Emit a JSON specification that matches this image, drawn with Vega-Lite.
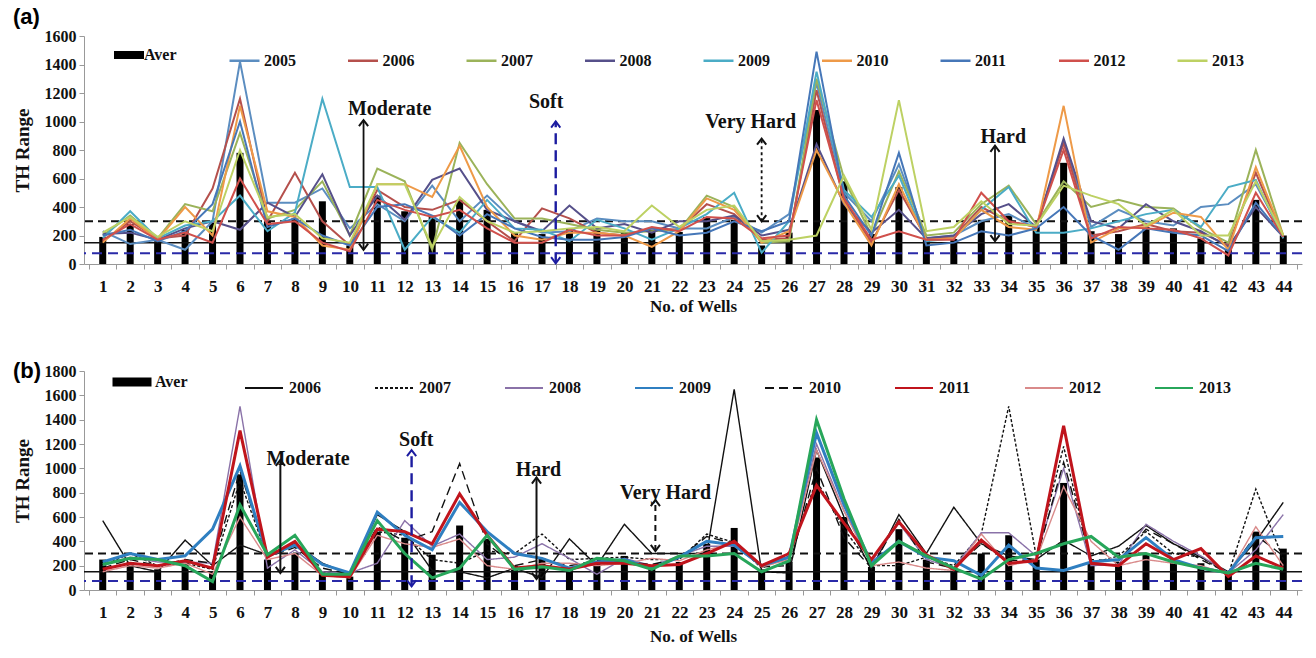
{
  "$schema": "https://vega.github.io/schema/vega-lite/v6.json",
  "background": "white",
  "padding": {"left": 13, "top": 6, "right": 3, "bottom": 4},
  "config": {
    "view": {"stroke": null},
    "axis": {"labelFont": "Liberation Serif", "labelFontWeight": "bold", "labelColor": "#111", "titleFont": "Liberation Serif", "titleFontWeight": "bold", "titleColor": "#111", "domainColor": "#999", "tickColor": "#999", "grid": false, "labelOverlap": false},
    "legend": {"labelFont": "Liberation Serif", "labelFontWeight": "bold", "labelFontSize": 16, "labelColor": "#111", "padding": 0}
  },
  "datasets": {
    "a": [
      {"w":1,"s":"Aver","v":190},{"w":2,"s":"Aver","v":280},{"w":3,"s":"Aver","v":160},{"w":4,"s":"Aver","v":240},{"w":5,"s":"Aver","v":290},{"w":6,"s":"Aver","v":780},{"w":7,"s":"Aver","v":300},{"w":8,"s":"Aver","v":320},{"w":9,"s":"Aver","v":440},{"w":10,"s":"Aver","v":130},{"w":11,"s":"Aver","v":480},{"w":12,"s":"Aver","v":370},{"w":13,"s":"Aver","v":340},{"w":14,"s":"Aver","v":450},{"w":15,"s":"Aver","v":380},{"w":16,"s":"Aver","v":220},{"w":17,"s":"Aver","v":210},{"w":18,"s":"Aver","v":250},{"w":19,"s":"Aver","v":245},{"w":20,"s":"Aver","v":225},{"w":21,"s":"Aver","v":240},{"w":22,"s":"Aver","v":225},{"w":23,"s":"Aver","v":330},{"w":24,"s":"Aver","v":310},{"w":25,"s":"Aver","v":130},{"w":26,"s":"Aver","v":220},{"w":27,"s":"Aver","v":1080},{"w":28,"s":"Aver","v":580},{"w":29,"s":"Aver","v":210},{"w":30,"s":"Aver","v":540},{"w":31,"s":"Aver","v":190},{"w":32,"s":"Aver","v":175},{"w":33,"s":"Aver","v":310},{"w":34,"s":"Aver","v":340},{"w":35,"s":"Aver","v":260},{"w":36,"s":"Aver","v":710},{"w":37,"s":"Aver","v":230},{"w":38,"s":"Aver","v":210},{"w":39,"s":"Aver","v":260},{"w":40,"s":"Aver","v":250},{"w":41,"s":"Aver","v":180},{"w":42,"s":"Aver","v":100},{"w":43,"s":"Aver","v":450},{"w":44,"s":"Aver","v":200},
      {"w":1,"s":"2005","v":230},{"w":2,"s":"2005","v":140},{"w":3,"s":"2005","v":170},{"w":4,"s":"2005","v":100},{"w":5,"s":"2005","v":300},{"w":6,"s":"2005","v":1420},{"w":7,"s":"2005","v":430},{"w":8,"s":"2005","v":430},{"w":9,"s":"2005","v":530},{"w":10,"s":"2005","v":250},{"w":11,"s":"2005","v":420},{"w":12,"s":"2005","v":300},{"w":13,"s":"2005","v":550},{"w":14,"s":"2005","v":300},{"w":15,"s":"2005","v":480},{"w":16,"s":"2005","v":300},{"w":17,"s":"2005","v":220},{"w":18,"s":"2005","v":230},{"w":19,"s":"2005","v":320},{"w":20,"s":"2005","v":300},{"w":21,"s":"2005","v":300},{"w":22,"s":"2005","v":250},{"w":23,"s":"2005","v":250},{"w":24,"s":"2005","v":330},{"w":25,"s":"2005","v":220},{"w":26,"s":"2005","v":350},{"w":27,"s":"2005","v":1270},{"w":28,"s":"2005","v":500},{"w":29,"s":"2005","v":300},{"w":30,"s":"2005","v":700},{"w":31,"s":"2005","v":180},{"w":32,"s":"2005","v":200},{"w":33,"s":"2005","v":300},{"w":34,"s":"2005","v":350},{"w":35,"s":"2005","v":250},{"w":36,"s":"2005","v":860},{"w":37,"s":"2005","v":260},{"w":38,"s":"2005","v":380},{"w":39,"s":"2005","v":300},{"w":40,"s":"2005","v":270},{"w":41,"s":"2005","v":400},{"w":42,"s":"2005","v":420},{"w":43,"s":"2005","v":560},{"w":44,"s":"2005","v":200},
      {"w":1,"s":"2006","v":160},{"w":2,"s":"2006","v":300},{"w":3,"s":"2006","v":180},{"w":4,"s":"2006","v":200},{"w":5,"s":"2006","v":530},{"w":6,"s":"2006","v":1160},{"w":7,"s":"2006","v":300},{"w":8,"s":"2006","v":640},{"w":9,"s":"2006","v":300},{"w":10,"s":"2006","v":130},{"w":11,"s":"2006","v":520},{"w":12,"s":"2006","v":400},{"w":13,"s":"2006","v":380},{"w":14,"s":"2006","v":450},{"w":15,"s":"2006","v":300},{"w":16,"s":"2006","v":160},{"w":17,"s":"2006","v":390},{"w":18,"s":"2006","v":320},{"w":19,"s":"2006","v":220},{"w":20,"s":"2006","v":200},{"w":21,"s":"2006","v":250},{"w":22,"s":"2006","v":240},{"w":23,"s":"2006","v":420},{"w":24,"s":"2006","v":350},{"w":25,"s":"2006","v":170},{"w":26,"s":"2006","v":180},{"w":27,"s":"2006","v":1220},{"w":28,"s":"2006","v":450},{"w":29,"s":"2006","v":150},{"w":30,"s":"2006","v":520},{"w":31,"s":"2006","v":180},{"w":32,"s":"2006","v":190},{"w":33,"s":"2006","v":400},{"w":34,"s":"2006","v":300},{"w":35,"s":"2006","v":260},{"w":36,"s":"2006","v":850},{"w":37,"s":"2006","v":200},{"w":38,"s":"2006","v":230},{"w":39,"s":"2006","v":280},{"w":40,"s":"2006","v":230},{"w":41,"s":"2006","v":220},{"w":42,"s":"2006","v":130},{"w":43,"s":"2006","v":640},{"w":44,"s":"2006","v":190},
      {"w":1,"s":"2007","v":200},{"w":2,"s":"2007","v":340},{"w":3,"s":"2007","v":180},{"w":4,"s":"2007","v":420},{"w":5,"s":"2007","v":370},{"w":6,"s":"2007","v":920},{"w":7,"s":"2007","v":320},{"w":8,"s":"2007","v":380},{"w":9,"s":"2007","v":580},{"w":10,"s":"2007","v":200},{"w":11,"s":"2007","v":670},{"w":12,"s":"2007","v":580},{"w":13,"s":"2007","v":100},{"w":14,"s":"2007","v":850},{"w":15,"s":"2007","v":560},{"w":16,"s":"2007","v":320},{"w":17,"s":"2007","v":320},{"w":18,"s":"2007","v":280},{"w":19,"s":"2007","v":240},{"w":20,"s":"2007","v":220},{"w":21,"s":"2007","v":230},{"w":22,"s":"2007","v":240},{"w":23,"s":"2007","v":480},{"w":24,"s":"2007","v":400},{"w":25,"s":"2007","v":150},{"w":26,"s":"2007","v":160},{"w":27,"s":"2007","v":1300},{"w":28,"s":"2007","v":600},{"w":29,"s":"2007","v":200},{"w":30,"s":"2007","v":650},{"w":31,"s":"2007","v":200},{"w":32,"s":"2007","v":220},{"w":33,"s":"2007","v":420},{"w":34,"s":"2007","v":550},{"w":35,"s":"2007","v":280},{"w":36,"s":"2007","v":580},{"w":37,"s":"2007","v":400},{"w":38,"s":"2007","v":450},{"w":39,"s":"2007","v":400},{"w":40,"s":"2007","v":390},{"w":41,"s":"2007","v":250},{"w":42,"s":"2007","v":150},{"w":43,"s":"2007","v":800},{"w":44,"s":"2007","v":200},
      {"w":1,"s":"2008","v":210},{"w":2,"s":"2008","v":220},{"w":3,"s":"2008","v":170},{"w":4,"s":"2008","v":250},{"w":5,"s":"2008","v":300},{"w":6,"s":"2008","v":240},{"w":7,"s":"2008","v":430},{"w":8,"s":"2008","v":330},{"w":9,"s":"2008","v":630},{"w":10,"s":"2008","v":200},{"w":11,"s":"2008","v":480},{"w":12,"s":"2008","v":310},{"w":13,"s":"2008","v":590},{"w":14,"s":"2008","v":670},{"w":15,"s":"2008","v":380},{"w":16,"s":"2008","v":300},{"w":17,"s":"2008","v":230},{"w":18,"s":"2008","v":410},{"w":19,"s":"2008","v":250},{"w":20,"s":"2008","v":280},{"w":21,"s":"2008","v":220},{"w":22,"s":"2008","v":300},{"w":23,"s":"2008","v":300},{"w":24,"s":"2008","v":340},{"w":25,"s":"2008","v":200},{"w":26,"s":"2008","v":240},{"w":27,"s":"2008","v":840},{"w":28,"s":"2008","v":420},{"w":29,"s":"2008","v":220},{"w":30,"s":"2008","v":380},{"w":31,"s":"2008","v":180},{"w":32,"s":"2008","v":200},{"w":33,"s":"2008","v":350},{"w":34,"s":"2008","v":420},{"w":35,"s":"2008","v":260},{"w":36,"s":"2008","v":880},{"w":37,"s":"2008","v":300},{"w":38,"s":"2008","v":250},{"w":39,"s":"2008","v":420},{"w":40,"s":"2008","v":300},{"w":41,"s":"2008","v":230},{"w":42,"s":"2008","v":120},{"w":43,"s":"2008","v":400},{"w":44,"s":"2008","v":190},
      {"w":1,"s":"2009","v":180},{"w":2,"s":"2009","v":370},{"w":3,"s":"2009","v":180},{"w":4,"s":"2009","v":270},{"w":5,"s":"2009","v":300},{"w":6,"s":"2009","v":480},{"w":7,"s":"2009","v":230},{"w":8,"s":"2009","v":360},{"w":9,"s":"2009","v":1160},{"w":10,"s":"2009","v":540},{"w":11,"s":"2009","v":540},{"w":12,"s":"2009","v":100},{"w":13,"s":"2009","v":330},{"w":14,"s":"2009","v":220},{"w":15,"s":"2009","v":450},{"w":16,"s":"2009","v":250},{"w":17,"s":"2009","v":240},{"w":18,"s":"2009","v":160},{"w":19,"s":"2009","v":310},{"w":20,"s":"2009","v":250},{"w":21,"s":"2009","v":170},{"w":22,"s":"2009","v":250},{"w":23,"s":"2009","v":350},{"w":24,"s":"2009","v":500},{"w":25,"s":"2009","v":80},{"w":26,"s":"2009","v":300},{"w":27,"s":"2009","v":1350},{"w":28,"s":"2009","v":520},{"w":29,"s":"2009","v":330},{"w":30,"s":"2009","v":620},{"w":31,"s":"2009","v":160},{"w":32,"s":"2009","v":180},{"w":33,"s":"2009","v":380},{"w":34,"s":"2009","v":540},{"w":35,"s":"2009","v":220},{"w":36,"s":"2009","v":220},{"w":37,"s":"2009","v":250},{"w":38,"s":"2009","v":300},{"w":39,"s":"2009","v":350},{"w":40,"s":"2009","v":380},{"w":41,"s":"2009","v":260},{"w":42,"s":"2009","v":540},{"w":43,"s":"2009","v":590},{"w":44,"s":"2009","v":180},
      {"w":1,"s":"2010","v":150},{"w":2,"s":"2010","v":320},{"w":3,"s":"2010","v":170},{"w":4,"s":"2010","v":400},{"w":5,"s":"2010","v":200},{"w":6,"s":"2010","v":1110},{"w":7,"s":"2010","v":370},{"w":8,"s":"2010","v":330},{"w":9,"s":"2010","v":130},{"w":10,"s":"2010","v":100},{"w":11,"s":"2010","v":560},{"w":12,"s":"2010","v":560},{"w":13,"s":"2010","v":470},{"w":14,"s":"2010","v":830},{"w":15,"s":"2010","v":400},{"w":16,"s":"2010","v":200},{"w":17,"s":"2010","v":170},{"w":18,"s":"2010","v":220},{"w":19,"s":"2010","v":220},{"w":20,"s":"2010","v":200},{"w":21,"s":"2010","v":120},{"w":22,"s":"2010","v":230},{"w":23,"s":"2010","v":460},{"w":24,"s":"2010","v":380},{"w":25,"s":"2010","v":150},{"w":26,"s":"2010","v":230},{"w":27,"s":"2010","v":800},{"w":28,"s":"2010","v":430},{"w":29,"s":"2010","v":130},{"w":30,"s":"2010","v":560},{"w":31,"s":"2010","v":170},{"w":32,"s":"2010","v":180},{"w":33,"s":"2010","v":380},{"w":34,"s":"2010","v":260},{"w":35,"s":"2010","v":240},{"w":36,"s":"2010","v":1110},{"w":37,"s":"2010","v":150},{"w":38,"s":"2010","v":250},{"w":39,"s":"2010","v":260},{"w":40,"s":"2010","v":360},{"w":41,"s":"2010","v":330},{"w":42,"s":"2010","v":100},{"w":43,"s":"2010","v":680},{"w":44,"s":"2010","v":200},
      {"w":1,"s":"2011","v":200},{"w":2,"s":"2011","v":240},{"w":3,"s":"2011","v":160},{"w":4,"s":"2011","v":230},{"w":5,"s":"2011","v":420},{"w":6,"s":"2011","v":1000},{"w":7,"s":"2011","v":260},{"w":8,"s":"2011","v":320},{"w":9,"s":"2011","v":200},{"w":10,"s":"2011","v":130},{"w":11,"s":"2011","v":400},{"w":12,"s":"2011","v":420},{"w":13,"s":"2011","v":340},{"w":14,"s":"2011","v":200},{"w":15,"s":"2011","v":350},{"w":16,"s":"2011","v":250},{"w":17,"s":"2011","v":190},{"w":18,"s":"2011","v":170},{"w":19,"s":"2011","v":170},{"w":20,"s":"2011","v":190},{"w":21,"s":"2011","v":250},{"w":22,"s":"2011","v":200},{"w":23,"s":"2011","v":220},{"w":24,"s":"2011","v":300},{"w":25,"s":"2011","v":230},{"w":26,"s":"2011","v":300},{"w":27,"s":"2011","v":1490},{"w":28,"s":"2011","v":480},{"w":29,"s":"2011","v":200},{"w":30,"s":"2011","v":780},{"w":31,"s":"2011","v":130},{"w":32,"s":"2011","v":150},{"w":33,"s":"2011","v":230},{"w":34,"s":"2011","v":200},{"w":35,"s":"2011","v":250},{"w":36,"s":"2011","v":400},{"w":37,"s":"2011","v":200},{"w":38,"s":"2011","v":100},{"w":39,"s":"2011","v":250},{"w":40,"s":"2011","v":220},{"w":41,"s":"2011","v":200},{"w":42,"s":"2011","v":90},{"w":43,"s":"2011","v":430},{"w":44,"s":"2011","v":190},
      {"w":1,"s":"2012","v":170},{"w":2,"s":"2012","v":280},{"w":3,"s":"2012","v":170},{"w":4,"s":"2012","v":220},{"w":5,"s":"2012","v":150},{"w":6,"s":"2012","v":600},{"w":7,"s":"2012","v":280},{"w":8,"s":"2012","v":300},{"w":9,"s":"2012","v":150},{"w":10,"s":"2012","v":90},{"w":11,"s":"2012","v":450},{"w":12,"s":"2012","v":380},{"w":13,"s":"2012","v":330},{"w":14,"s":"2012","v":380},{"w":15,"s":"2012","v":250},{"w":16,"s":"2012","v":150},{"w":17,"s":"2012","v":150},{"w":18,"s":"2012","v":240},{"w":19,"s":"2012","v":200},{"w":20,"s":"2012","v":200},{"w":21,"s":"2012","v":260},{"w":22,"s":"2012","v":230},{"w":23,"s":"2012","v":330},{"w":24,"s":"2012","v":320},{"w":25,"s":"2012","v":180},{"w":26,"s":"2012","v":200},{"w":27,"s":"2012","v":1150},{"w":28,"s":"2012","v":460},{"w":29,"s":"2012","v":170},{"w":30,"s":"2012","v":230},{"w":31,"s":"2012","v":170},{"w":32,"s":"2012","v":170},{"w":33,"s":"2012","v":500},{"w":34,"s":"2012","v":300},{"w":35,"s":"2012","v":260},{"w":36,"s":"2012","v":800},{"w":37,"s":"2012","v":180},{"w":38,"s":"2012","v":260},{"w":39,"s":"2012","v":250},{"w":40,"s":"2012","v":240},{"w":41,"s":"2012","v":180},{"w":42,"s":"2012","v":60},{"w":43,"s":"2012","v":500},{"w":44,"s":"2012","v":190},
      {"w":1,"s":"2013","v":220},{"w":2,"s":"2013","v":330},{"w":3,"s":"2013","v":190},{"w":4,"s":"2013","v":300},{"w":5,"s":"2013","v":230},{"w":6,"s":"2013","v":800},{"w":7,"s":"2013","v":330},{"w":8,"s":"2013","v":350},{"w":9,"s":"2013","v":180},{"w":10,"s":"2013","v":150},{"w":11,"s":"2013","v":560},{"w":12,"s":"2013","v":560},{"w":13,"s":"2013","v":120},{"w":14,"s":"2013","v":470},{"w":15,"s":"2013","v":300},{"w":16,"s":"2013","v":220},{"w":17,"s":"2013","v":230},{"w":18,"s":"2013","v":250},{"w":19,"s":"2013","v":260},{"w":20,"s":"2013","v":230},{"w":21,"s":"2013","v":410},{"w":22,"s":"2013","v":260},{"w":23,"s":"2013","v":380},{"w":24,"s":"2013","v":410},{"w":25,"s":"2013","v":160},{"w":26,"s":"2013","v":170},{"w":27,"s":"2013","v":200},{"w":28,"s":"2013","v":620},{"w":29,"s":"2013","v":240},{"w":30,"s":"2013","v":1150},{"w":31,"s":"2013","v":230},{"w":32,"s":"2013","v":260},{"w":33,"s":"2013","v":440},{"w":34,"s":"2013","v":280},{"w":35,"s":"2013","v":270},{"w":36,"s":"2013","v":550},{"w":37,"s":"2013","v":480},{"w":38,"s":"2013","v":420},{"w":39,"s":"2013","v":270},{"w":40,"s":"2013","v":380},{"w":41,"s":"2013","v":200},{"w":42,"s":"2013","v":200},{"w":43,"s":"2013","v":580},{"w":44,"s":"2013","v":200}
    ],
    "b": [
      {"w":1,"s":"Aver","v":250},{"w":2,"s":"Aver","v":230},{"w":3,"s":"Aver","v":170},{"w":4,"s":"Aver","v":240},{"w":5,"s":"Aver","v":150},{"w":6,"s":"Aver","v":950},{"w":7,"s":"Aver","v":250},{"w":8,"s":"Aver","v":300},{"w":9,"s":"Aver","v":130},{"w":10,"s":"Aver","v":110},{"w":11,"s":"Aver","v":480},{"w":12,"s":"Aver","v":430},{"w":13,"s":"Aver","v":290},{"w":14,"s":"Aver","v":530},{"w":15,"s":"Aver","v":420},{"w":16,"s":"Aver","v":200},{"w":17,"s":"Aver","v":260},{"w":18,"s":"Aver","v":170},{"w":19,"s":"Aver","v":220},{"w":20,"s":"Aver","v":280},{"w":21,"s":"Aver","v":200},{"w":22,"s":"Aver","v":230},{"w":23,"s":"Aver","v":380},{"w":24,"s":"Aver","v":510},{"w":25,"s":"Aver","v":170},{"w":26,"s":"Aver","v":230},{"w":27,"s":"Aver","v":1090},{"w":28,"s":"Aver","v":600},{"w":29,"s":"Aver","v":190},{"w":30,"s":"Aver","v":500},{"w":31,"s":"Aver","v":250},{"w":32,"s":"Aver","v":170},{"w":33,"s":"Aver","v":300},{"w":34,"s":"Aver","v":450},{"w":35,"s":"Aver","v":250},{"w":36,"s":"Aver","v":880},{"w":37,"s":"Aver","v":230},{"w":38,"s":"Aver","v":230},{"w":39,"s":"Aver","v":300},{"w":40,"s":"Aver","v":260},{"w":41,"s":"Aver","v":220},{"w":42,"s":"Aver","v":150},{"w":43,"s":"Aver","v":480},{"w":44,"s":"Aver","v":340},
      {"w":1,"s":"2006","v":570},{"w":2,"s":"2006","v":200},{"w":3,"s":"2006","v":150},{"w":4,"s":"2006","v":410},{"w":5,"s":"2006","v":200},{"w":6,"s":"2006","v":370},{"w":7,"s":"2006","v":290},{"w":8,"s":"2006","v":380},{"w":9,"s":"2006","v":220},{"w":10,"s":"2006","v":130},{"w":11,"s":"2006","v":620},{"w":12,"s":"2006","v":480},{"w":13,"s":"2006","v":160},{"w":14,"s":"2006","v":150},{"w":15,"s":"2006","v":100},{"w":16,"s":"2006","v":180},{"w":17,"s":"2006","v":100},{"w":18,"s":"2006","v":420},{"w":19,"s":"2006","v":200},{"w":20,"s":"2006","v":540},{"w":21,"s":"2006","v":300},{"w":22,"s":"2006","v":300},{"w":23,"s":"2006","v":300},{"w":24,"s":"2006","v":1650},{"w":25,"s":"2006","v":150},{"w":26,"s":"2006","v":140},{"w":27,"s":"2006","v":1150},{"w":28,"s":"2006","v":600},{"w":29,"s":"2006","v":170},{"w":30,"s":"2006","v":620},{"w":31,"s":"2006","v":300},{"w":32,"s":"2006","v":680},{"w":33,"s":"2006","v":380},{"w":34,"s":"2006","v":280},{"w":35,"s":"2006","v":250},{"w":36,"s":"2006","v":410},{"w":37,"s":"2006","v":280},{"w":38,"s":"2006","v":360},{"w":39,"s":"2006","v":530},{"w":40,"s":"2006","v":380},{"w":41,"s":"2006","v":270},{"w":42,"s":"2006","v":150},{"w":43,"s":"2006","v":400},{"w":44,"s":"2006","v":720},
      {"w":1,"s":"2007","v":200},{"w":2,"s":"2007","v":300},{"w":3,"s":"2007","v":200},{"w":4,"s":"2007","v":220},{"w":5,"s":"2007","v":170},{"w":6,"s":"2007","v":900},{"w":7,"s":"2007","v":270},{"w":8,"s":"2007","v":380},{"w":9,"s":"2007","v":150},{"w":10,"s":"2007","v":130},{"w":11,"s":"2007","v":480},{"w":12,"s":"2007","v":450},{"w":13,"s":"2007","v":250},{"w":14,"s":"2007","v":220},{"w":15,"s":"2007","v":320},{"w":16,"s":"2007","v":300},{"w":17,"s":"2007","v":460},{"w":18,"s":"2007","v":250},{"w":19,"s":"2007","v":260},{"w":20,"s":"2007","v":270},{"w":21,"s":"2007","v":250},{"w":22,"s":"2007","v":250},{"w":23,"s":"2007","v":460},{"w":24,"s":"2007","v":390},{"w":25,"s":"2007","v":180},{"w":26,"s":"2007","v":280},{"w":27,"s":"2007","v":900},{"w":28,"s":"2007","v":500},{"w":29,"s":"2007","v":200},{"w":30,"s":"2007","v":200},{"w":31,"s":"2007","v":270},{"w":32,"s":"2007","v":200},{"w":33,"s":"2007","v":460},{"w":34,"s":"2007","v":1510},{"w":35,"s":"2007","v":280},{"w":36,"s":"2007","v":1180},{"w":37,"s":"2007","v":220},{"w":38,"s":"2007","v":280},{"w":39,"s":"2007","v":480},{"w":40,"s":"2007","v":300},{"w":41,"s":"2007","v":270},{"w":42,"s":"2007","v":130},{"w":43,"s":"2007","v":830},{"w":44,"s":"2007","v":250},
      {"w":1,"s":"2008","v":200},{"w":2,"s":"2008","v":270},{"w":3,"s":"2008","v":230},{"w":4,"s":"2008","v":230},{"w":5,"s":"2008","v":220},{"w":6,"s":"2008","v":1510},{"w":7,"s":"2008","v":180},{"w":8,"s":"2008","v":330},{"w":9,"s":"2008","v":150},{"w":10,"s":"2008","v":140},{"w":11,"s":"2008","v":220},{"w":12,"s":"2008","v":570},{"w":13,"s":"2008","v":360},{"w":14,"s":"2008","v":460},{"w":15,"s":"2008","v":250},{"w":16,"s":"2008","v":270},{"w":17,"s":"2008","v":380},{"w":18,"s":"2008","v":260},{"w":19,"s":"2008","v":130},{"w":20,"s":"2008","v":260},{"w":21,"s":"2008","v":200},{"w":22,"s":"2008","v":280},{"w":23,"s":"2008","v":360},{"w":24,"s":"2008","v":360},{"w":25,"s":"2008","v":200},{"w":26,"s":"2008","v":260},{"w":27,"s":"2008","v":1200},{"w":28,"s":"2008","v":650},{"w":29,"s":"2008","v":230},{"w":30,"s":"2008","v":550},{"w":31,"s":"2008","v":250},{"w":32,"s":"2008","v":180},{"w":33,"s":"2008","v":470},{"w":34,"s":"2008","v":470},{"w":35,"s":"2008","v":280},{"w":36,"s":"2008","v":1000},{"w":37,"s":"2008","v":200},{"w":38,"s":"2008","v":210},{"w":39,"s":"2008","v":540},{"w":40,"s":"2008","v":400},{"w":41,"s":"2008","v":280},{"w":42,"s":"2008","v":140},{"w":43,"s":"2008","v":330},{"w":44,"s":"2008","v":620},
      {"w":1,"s":"2009","v":230},{"w":2,"s":"2009","v":300},{"w":3,"s":"2009","v":250},{"w":4,"s":"2009","v":280},{"w":5,"s":"2009","v":500},{"w":6,"s":"2009","v":1020},{"w":7,"s":"2009","v":280},{"w":8,"s":"2009","v":370},{"w":9,"s":"2009","v":210},{"w":10,"s":"2009","v":140},{"w":11,"s":"2009","v":640},{"w":12,"s":"2009","v":450},{"w":13,"s":"2009","v":330},{"w":14,"s":"2009","v":720},{"w":15,"s":"2009","v":480},{"w":16,"s":"2009","v":300},{"w":17,"s":"2009","v":260},{"w":18,"s":"2009","v":180},{"w":19,"s":"2009","v":230},{"w":20,"s":"2009","v":250},{"w":21,"s":"2009","v":180},{"w":22,"s":"2009","v":270},{"w":23,"s":"2009","v":400},{"w":24,"s":"2009","v":370},{"w":25,"s":"2009","v":200},{"w":26,"s":"2009","v":270},{"w":27,"s":"2009","v":1290},{"w":28,"s":"2009","v":700},{"w":29,"s":"2009","v":220},{"w":30,"s":"2009","v":400},{"w":31,"s":"2009","v":270},{"w":32,"s":"2009","v":240},{"w":33,"s":"2009","v":120},{"w":34,"s":"2009","v":370},{"w":35,"s":"2009","v":180},{"w":36,"s":"2009","v":160},{"w":37,"s":"2009","v":230},{"w":38,"s":"2009","v":250},{"w":39,"s":"2009","v":430},{"w":40,"s":"2009","v":250},{"w":41,"s":"2009","v":180},{"w":42,"s":"2009","v":140},{"w":43,"s":"2009","v":430},{"w":44,"s":"2009","v":440},
      {"w":1,"s":"2010","v":180},{"w":2,"s":"2010","v":250},{"w":3,"s":"2010","v":200},{"w":4,"s":"2010","v":250},{"w":5,"s":"2010","v":220},{"w":6,"s":"2010","v":980},{"w":7,"s":"2010","v":270},{"w":8,"s":"2010","v":350},{"w":9,"s":"2010","v":180},{"w":10,"s":"2010","v":130},{"w":11,"s":"2010","v":520},{"w":12,"s":"2010","v":400},{"w":13,"s":"2010","v":480},{"w":14,"s":"2010","v":1040},{"w":15,"s":"2010","v":380},{"w":16,"s":"2010","v":200},{"w":17,"s":"2010","v":250},{"w":18,"s":"2010","v":200},{"w":19,"s":"2010","v":240},{"w":20,"s":"2010","v":230},{"w":21,"s":"2010","v":210},{"w":22,"s":"2010","v":260},{"w":23,"s":"2010","v":440},{"w":24,"s":"2010","v":380},{"w":25,"s":"2010","v":190},{"w":26,"s":"2010","v":200},{"w":27,"s":"2010","v":1000},{"w":28,"s":"2010","v":430},{"w":29,"s":"2010","v":180},{"w":30,"s":"2010","v":580},{"w":31,"s":"2010","v":230},{"w":32,"s":"2010","v":180},{"w":33,"s":"2010","v":380},{"w":34,"s":"2010","v":240},{"w":35,"s":"2010","v":250},{"w":36,"s":"2010","v":1050},{"w":37,"s":"2010","v":250},{"w":38,"s":"2010","v":240},{"w":39,"s":"2010","v":500},{"w":40,"s":"2010","v":380},{"w":41,"s":"2010","v":250},{"w":42,"s":"2010","v":140},{"w":43,"s":"2010","v":450},{"w":44,"s":"2010","v":280},
      {"w":1,"s":"2011","v":170},{"w":2,"s":"2011","v":220},{"w":3,"s":"2011","v":200},{"w":4,"s":"2011","v":240},{"w":5,"s":"2011","v":180},{"w":6,"s":"2011","v":1310},{"w":7,"s":"2011","v":270},{"w":8,"s":"2011","v":400},{"w":9,"s":"2011","v":120},{"w":10,"s":"2011","v":110},{"w":11,"s":"2011","v":500},{"w":12,"s":"2011","v":480},{"w":13,"s":"2011","v":380},{"w":14,"s":"2011","v":790},{"w":15,"s":"2011","v":450},{"w":16,"s":"2011","v":180},{"w":17,"s":"2011","v":200},{"w":18,"s":"2011","v":170},{"w":19,"s":"2011","v":220},{"w":20,"s":"2011","v":220},{"w":21,"s":"2011","v":200},{"w":22,"s":"2011","v":210},{"w":23,"s":"2011","v":300},{"w":24,"s":"2011","v":400},{"w":25,"s":"2011","v":200},{"w":26,"s":"2011","v":300},{"w":27,"s":"2011","v":860},{"w":28,"s":"2011","v":550},{"w":29,"s":"2011","v":250},{"w":30,"s":"2011","v":560},{"w":31,"s":"2011","v":290},{"w":32,"s":"2011","v":170},{"w":33,"s":"2011","v":410},{"w":34,"s":"2011","v":220},{"w":35,"s":"2011","v":240},{"w":36,"s":"2011","v":1350},{"w":37,"s":"2011","v":220},{"w":38,"s":"2011","v":200},{"w":39,"s":"2011","v":380},{"w":40,"s":"2011","v":250},{"w":41,"s":"2011","v":340},{"w":42,"s":"2011","v":110},{"w":43,"s":"2011","v":280},{"w":44,"s":"2011","v":180},
      {"w":1,"s":"2012","v":150},{"w":2,"s":"2012","v":200},{"w":3,"s":"2012","v":180},{"w":4,"s":"2012","v":220},{"w":5,"s":"2012","v":130},{"w":6,"s":"2012","v":600},{"w":7,"s":"2012","v":250},{"w":8,"s":"2012","v":300},{"w":9,"s":"2012","v":120},{"w":10,"s":"2012","v":100},{"w":11,"s":"2012","v":450},{"w":12,"s":"2012","v":380},{"w":13,"s":"2012","v":350},{"w":14,"s":"2012","v":420},{"w":15,"s":"2012","v":200},{"w":16,"s":"2012","v":170},{"w":17,"s":"2012","v":220},{"w":18,"s":"2012","v":220},{"w":19,"s":"2012","v":200},{"w":20,"s":"2012","v":220},{"w":21,"s":"2012","v":260},{"w":22,"s":"2012","v":240},{"w":23,"s":"2012","v":330},{"w":24,"s":"2012","v":380},{"w":25,"s":"2012","v":190},{"w":26,"s":"2012","v":250},{"w":27,"s":"2012","v":1150},{"w":28,"s":"2012","v":650},{"w":29,"s":"2012","v":200},{"w":30,"s":"2012","v":230},{"w":31,"s":"2012","v":180},{"w":32,"s":"2012","v":160},{"w":33,"s":"2012","v":460},{"w":34,"s":"2012","v":200},{"w":35,"s":"2012","v":250},{"w":36,"s":"2012","v":850},{"w":37,"s":"2012","v":400},{"w":38,"s":"2012","v":200},{"w":39,"s":"2012","v":250},{"w":40,"s":"2012","v":220},{"w":41,"s":"2012","v":200},{"w":42,"s":"2012","v":130},{"w":43,"s":"2012","v":520},{"w":44,"s":"2012","v":200},
      {"w":1,"s":"2013","v":210},{"w":2,"s":"2013","v":260},{"w":3,"s":"2013","v":250},{"w":4,"s":"2013","v":200},{"w":5,"s":"2013","v":70},{"w":6,"s":"2013","v":700},{"w":7,"s":"2013","v":290},{"w":8,"s":"2013","v":450},{"w":9,"s":"2013","v":130},{"w":10,"s":"2013","v":130},{"w":11,"s":"2013","v":570},{"w":12,"s":"2013","v":300},{"w":13,"s":"2013","v":100},{"w":14,"s":"2013","v":180},{"w":15,"s":"2013","v":450},{"w":16,"s":"2013","v":170},{"w":17,"s":"2013","v":190},{"w":18,"s":"2013","v":160},{"w":19,"s":"2013","v":260},{"w":20,"s":"2013","v":240},{"w":21,"s":"2013","v":170},{"w":22,"s":"2013","v":280},{"w":23,"s":"2013","v":280},{"w":24,"s":"2013","v":300},{"w":25,"s":"2013","v":150},{"w":26,"s":"2013","v":240},{"w":27,"s":"2013","v":1400},{"w":28,"s":"2013","v":750},{"w":29,"s":"2013","v":200},{"w":30,"s":"2013","v":400},{"w":31,"s":"2013","v":280},{"w":32,"s":"2013","v":180},{"w":33,"s":"2013","v":90},{"w":34,"s":"2013","v":250},{"w":35,"s":"2013","v":300},{"w":36,"s":"2013","v":380},{"w":37,"s":"2013","v":440},{"w":38,"s":"2013","v":270},{"w":39,"s":"2013","v":300},{"w":40,"s":"2013","v":230},{"w":41,"s":"2013","v":180},{"w":42,"s":"2013","v":140},{"w":43,"s":"2013","v":220},{"w":44,"s":"2013","v":170}
    ],
    "thr": [{"t":300,"cls":"Hard"},{"t":150,"cls":"Moderate"},{"t":75,"cls":"Soft"}],
    "arrA": [
      {"kind":"Moderate","x":10.5,"lo":100,"hi":1010},
      {"kind":"Soft","x":17.5,"lo":5,"hi":1000},
      {"kind":"Very Hard","x":25,"lo":300,"hi":880},
      {"kind":"Hard","x":33.5,"lo":160,"hi":830}
    ],
    "labA": [
      {"label":"Moderate","x":11.45,"y":1085},
      {"label":"Soft","x":17.15,"y":1135},
      {"label":"Very Hard","x":24.6,"y":1000},
      {"label":"Hard","x":33.8,"y":890}
    ],
    "arrB": [
      {"kind":"Moderate","x":7.47,"lo":140,"hi":1070},
      {"kind":"Soft","x":12.25,"lo":30,"hi":1150},
      {"kind":"Hard","x":16.8,"lo":90,"hi":925},
      {"kind":"Very Hard","x":21.13,"lo":320,"hi":740}
    ],
    "labB": [
      {"label":"Moderate","x":8.48,"y":1080},
      {"label":"Soft","x":12.42,"y":1236},
      {"label":"Hard","x":16.87,"y":990},
      {"label":"Very Hard","x":21.5,"y":800}
    ]
  },
  "vconcat": [
    {
      "title": {"text": "(a)", "anchor": "start", "frame": "bounds", "font": "Liberation Sans", "fontSize": 22, "fontWeight": "bold", "color": "#000", "offset": -1},
      "width": 1218,
      "height": 228,
      "layer": [
        {
          "data": {"name": "a"},
          "transform": [{"filter": "datum.s === 'Aver'"}],
          "mark": {"type": "bar", "size": 7},
          "encoding": {
            "x": {"field": "w", "type": "quantitative", "scale": {"domain": [0.5, 44.5], "nice": false, "zero": false},
              "axis": {"title": "No. of Wells", "tickCount": 100, "values": [0.5,1.5,2.5,3.5,4.5,5.5,6.5,7.5,8.5,9.5,10.5,11.5,12.5,13.5,14.5,15.5,16.5,17.5,18.5,19.5,20.5,21.5,22.5,23.5,24.5,25.5,26.5,27.5,28.5,29.5,30.5,31.5,32.5,33.5,34.5,35.5,36.5,37.5,38.5,39.5,40.5,41.5,42.5,43.5,44.5],
                "labelExpr": "datum.value > 44 ? '' : format(datum.value + 0.5, 'd')", "labelOffset": 13.84, "labelFlush": false, "labelOverlap": false, "labelBound": false, "labelFontSize": 17, "labelPadding": 9, "tickSize": 5, "titleFontSize": 17, "titlePadding": 4}},
            "y": {"field": "v", "type": "quantitative", "scale": {"domain": [0, 1600], "nice": false},
              "axis": {"title": "TH Range", "format": "d", "tickCount": 20, "values": [0,200,400,600,800,1000,1200,1400,1600], "labelFontSize": 16, "tickSize": 5, "labelPadding": 3, "titleFontSize": 19, "titlePadding": 12}},
            "fill": {"field": "s", "type": "nominal", "scale": {"domain": ["Aver"], "range": ["#000000"]},
              "legend": {"orient": "none", "legendX": 34, "legendY": 8, "title": null, "symbolType": "M -1.5 -0.4 L 1.5 -0.4 L 1.5 0.4 L -1.5 0.4 Z", "symbolSize": 400, "labelOffset": 4}}
          }
        },
        {"data": {"name": "thr"}, "transform": [{"filter": "datum.cls === 'Hard'"}], "mark": {"type": "rule", "color": "#111", "strokeDash": [8, 5], "strokeWidth": 2}, "encoding": {"y": {"field": "t", "type": "quantitative"}}},
        {"data": {"name": "thr"}, "transform": [{"filter": "datum.cls === 'Moderate'"}], "mark": {"type": "rule", "color": "#111", "strokeWidth": 1.5}, "encoding": {"y": {"field": "t", "type": "quantitative"}}},
        {"data": {"name": "thr"}, "transform": [{"filter": "datum.cls === 'Soft'"}], "mark": {"type": "rule", "color": "#2A2AA8", "strokeDash": [10, 6], "strokeWidth": 2}, "encoding": {"y": {"field": "t", "type": "quantitative"}}},
        {
          "data": {"name": "a"},
          "transform": [{"filter": "datum.s !== 'Aver'"}],
          "mark": {"type": "line", "strokeWidth": 2},
          "encoding": {
            "x": {"field": "w", "type": "quantitative"},
            "y": {"field": "v", "type": "quantitative"},
            "color": {"field": "s", "type": "nominal",
              "scale": {"domain": ["2005","2006","2007","2008","2009","2010","2011","2012","2013"], "range": ["#5B8DC0","#B5504C","#9BB35A","#56508A","#4BACC6","#EE9A48","#4677B8","#D0504C","#BDD163"]},
              "legend": {"orient": "none", "legendX": 144, "legendY": 8, "direction": "horizontal", "columns": 9, "title": null,
                "symbolType": "stroke", "symbolSize": 900, "symbolStrokeWidth": 2.5, "labelOffset": 3, "columnPadding": 46.5}}
          }
        },
        {"data": {"name": "arrA"}, "transform": [{"filter": "datum.kind === 'Moderate' || datum.kind === 'Hard'"}], "mark": {"type": "rule", "color": "#111", "strokeWidth": 1.8}, "encoding": {"x": {"field": "x", "type": "quantitative"}, "y": {"field": "lo", "type": "quantitative"}, "y2": {"field": "hi"}}},
        {"data": {"name": "arrA"}, "transform": [{"filter": "datum.kind === 'Soft'"}], "mark": {"type": "rule", "color": "#1C1CA0", "strokeWidth": 2.4, "strokeDash": [11, 6]}, "encoding": {"x": {"field": "x", "type": "quantitative"}, "y": {"field": "lo", "type": "quantitative"}, "y2": {"field": "hi"}}},
        {"data": {"name": "arrA"}, "transform": [{"filter": "datum.kind === 'Very Hard'"}], "mark": {"type": "rule", "color": "#111", "strokeWidth": 1.8, "strokeDash": [3, 3]}, "encoding": {"x": {"field": "x", "type": "quantitative"}, "y": {"field": "lo", "type": "quantitative"}, "y2": {"field": "hi"}}},
        {
          "data": {"name": "arrA"},
          "transform": [{"fold": ["lo", "hi"], "as": ["end", "yv"]}],
          "mark": {"type": "point", "filled": false, "size": 150, "strokeWidth": 2, "opacity": 1},
          "encoding": {
            "x": {"field": "x", "type": "quantitative"},
            "y": {"field": "yv", "type": "quantitative"},
            "shape": {"field": "end", "type": "nominal", "scale": {"domain": ["lo", "hi"], "range": ["M -0.75 -1 L 0 0 L 0.75 -1", "M -0.75 1 L 0 0 L 0.75 1"]}, "legend": null},
            "stroke": {"field": "kind", "type": "nominal", "scale": {"domain": ["Moderate", "Soft", "Very Hard", "Hard"], "range": ["#111111", "#1C1CA0", "#111111", "#111111"]}, "legend": null}
          }
        },
        {
          "data": {"name": "labA"},
          "mark": {"type": "text", "font": "Liberation Serif", "fontWeight": "bold", "fontSize": 20, "color": "#111"},
          "encoding": {
            "x": {"field": "x", "type": "quantitative"},
            "y": {"field": "y", "type": "quantitative"},
            "text": {"field": "label"}
          }
        }
      ]
    },
    {
      "title": {"text": "(b)", "anchor": "start", "frame": "bounds", "font": "Liberation Sans", "fontSize": 22, "fontWeight": "bold", "color": "#000", "offset": -20},
      "width": 1218,
      "height": 219,
      "layer": [
        {
          "data": {"name": "b"},
          "transform": [{"filter": "datum.s === 'Aver'"}],
          "mark": {"type": "bar", "size": 7},
          "encoding": {
            "x": {"field": "w", "type": "quantitative", "scale": {"domain": [0.5, 44.5], "nice": false, "zero": false},
              "axis": {"title": "No. of Wells", "tickCount": 100, "values": [0.5,1.5,2.5,3.5,4.5,5.5,6.5,7.5,8.5,9.5,10.5,11.5,12.5,13.5,14.5,15.5,16.5,17.5,18.5,19.5,20.5,21.5,22.5,23.5,24.5,25.5,26.5,27.5,28.5,29.5,30.5,31.5,32.5,33.5,34.5,35.5,36.5,37.5,38.5,39.5,40.5,41.5,42.5,43.5,44.5],
                "labelExpr": "datum.value > 44 ? '' : format(datum.value + 0.5, 'd')", "labelOffset": 13.84, "labelFlush": false, "labelOverlap": false, "labelBound": false, "labelFontSize": 17, "labelPadding": 9, "tickSize": 5, "titleFontSize": 17, "titlePadding": 8}},
            "y": {"field": "v", "type": "quantitative", "scale": {"domain": [0, 1800], "nice": false},
              "axis": {"title": "TH Range", "format": "d", "tickCount": 20, "values": [0,200,400,600,800,1000,1200,1400,1600,1800], "labelFontSize": 16, "tickSize": 5, "labelPadding": 3, "titleFontSize": 19, "titlePadding": 12}},
            "fill": {"field": "s", "type": "nominal", "scale": {"domain": ["Aver"], "range": ["#000000"]},
              "legend": {"orient": "none", "legendX": 34, "legendY": -3, "title": null, "symbolType": "M -1.5 -0.35 L 1.5 -0.35 L 1.5 0.35 L -1.5 0.35 Z", "symbolSize": 676, "labelOffset": 9}}
          }
        },
        {"data": {"name": "thr"}, "transform": [{"filter": "datum.cls === 'Hard'"}], "mark": {"type": "rule", "color": "#111", "strokeDash": [8, 5], "strokeWidth": 2}, "encoding": {"y": {"field": "t", "type": "quantitative"}}},
        {"data": {"name": "thr"}, "transform": [{"filter": "datum.cls === 'Moderate'"}], "mark": {"type": "rule", "color": "#111", "strokeWidth": 1.5}, "encoding": {"y": {"field": "t", "type": "quantitative"}}},
        {"data": {"name": "thr"}, "transform": [{"filter": "datum.cls === 'Soft'"}], "mark": {"type": "rule", "color": "#2A2AA8", "strokeDash": [10, 6], "strokeWidth": 2}, "encoding": {"y": {"field": "t", "type": "quantitative"}}},
        {
          "data": {"name": "b"},
          "transform": [{"filter": "datum.s === '2006' || datum.s === '2007' || datum.s === '2008' || datum.s === '2010' || datum.s === '2012'"}],
          "mark": {"type": "line", "strokeWidth": 1.4},
          "encoding": {
            "x": {"field": "w", "type": "quantitative"},
            "y": {"field": "v", "type": "quantitative"},
            "strokeDash": {"field": "s", "type": "nominal",
              "scale": {"domain": ["2006","2007","2008","2009","2010","2011","2012","2013"], "range": [[1,0],[3,2],[1,0],[1,0],[9,5],[1,0],[1,0],[1,0]]},
              "legend": {"orient": "none", "legendX": 160, "legendY": -3, "direction": "horizontal", "columns": 8, "title": null, "symbolType": "stroke", "symbolSize": 1444, "symbolStrokeWidth": 2, "labelOffset": 5, "columnPadding": 50}},
            "color": {"field": "s", "type": "nominal",
              "scale": {"domain": ["2006","2007","2008","2009","2010","2011","2012","2013"], "range": ["#111111","#111111","#8A72A8","#2F7FC1","#111111","#C0141C","#D98A8A","#27A65A"]},
              "legend": {"orient": "none", "legendX": 160, "legendY": -3, "direction": "horizontal", "columns": 8, "title": null, "symbolType": "stroke", "symbolSize": 1444, "symbolStrokeWidth": 2, "labelOffset": 5, "columnPadding": 50}}
          }
        },
        {
          "data": {"name": "b"},
          "transform": [{"filter": "datum.s === '2009' || datum.s === '2011' || datum.s === '2013'"}],
          "mark": {"type": "line", "strokeWidth": 3},
          "encoding": {
            "x": {"field": "w", "type": "quantitative"},
            "y": {"field": "v", "type": "quantitative"},
            "color": {"field": "s", "type": "nominal",
              "scale": {"domain": ["2006","2007","2008","2009","2010","2011","2012","2013"], "range": ["#111111","#111111","#8A72A8","#2F7FC1","#111111","#C0141C","#D98A8A","#27A65A"]},
              "legend": {"orient": "none", "legendX": 160, "legendY": -3, "direction": "horizontal", "columns": 8, "title": null, "symbolType": "stroke", "symbolSize": 1444, "symbolStrokeWidth": 2, "labelOffset": 5, "columnPadding": 50}}
          }
        },
        {"data": {"name": "arrB"}, "transform": [{"filter": "datum.kind === 'Moderate' || datum.kind === 'Hard'"}], "mark": {"type": "rule", "color": "#111", "strokeWidth": 2}, "encoding": {"x": {"field": "x", "type": "quantitative"}, "y": {"field": "lo", "type": "quantitative"}, "y2": {"field": "hi"}}},
        {"data": {"name": "arrB"}, "transform": [{"filter": "datum.kind === 'Soft'"}], "mark": {"type": "rule", "color": "#1C1CA0", "strokeWidth": 2.4, "strokeDash": [11, 6]}, "encoding": {"x": {"field": "x", "type": "quantitative"}, "y": {"field": "lo", "type": "quantitative"}, "y2": {"field": "hi"}}},
        {"data": {"name": "arrB"}, "transform": [{"filter": "datum.kind === 'Very Hard'"}], "mark": {"type": "rule", "color": "#111", "strokeWidth": 2, "strokeDash": [6, 4]}, "encoding": {"x": {"field": "x", "type": "quantitative"}, "y": {"field": "lo", "type": "quantitative"}, "y2": {"field": "hi"}}},
        {
          "data": {"name": "arrB"},
          "transform": [{"fold": ["lo", "hi"], "as": ["end", "yv"]}],
          "mark": {"type": "point", "filled": false, "size": 150, "strokeWidth": 2, "opacity": 1},
          "encoding": {
            "x": {"field": "x", "type": "quantitative"},
            "y": {"field": "yv", "type": "quantitative"},
            "shape": {"field": "end", "type": "nominal", "scale": {"domain": ["lo", "hi"], "range": ["M -0.75 -1 L 0 0 L 0.75 -1", "M -0.75 1 L 0 0 L 0.75 1"]}, "legend": null},
            "stroke": {"field": "kind", "type": "nominal", "scale": {"domain": ["Moderate", "Soft", "Very Hard", "Hard"], "range": ["#111111", "#1C1CA0", "#111111", "#111111"]}, "legend": null}
          }
        },
        {
          "data": {"name": "labB"},
          "mark": {"type": "text", "font": "Liberation Serif", "fontWeight": "bold", "fontSize": 20, "color": "#111"},
          "encoding": {
            "x": {"field": "x", "type": "quantitative"},
            "y": {"field": "y", "type": "quantitative"},
            "text": {"field": "label"}
          }
        }
      ]
    }
  ],
  "spacing": 46,
  "resolve": {"scale": {"x": "independent", "y": "independent", "color": "independent", "fill": "independent", "shape": "independent", "stroke": "independent", "strokeDash": "independent"}, "legend": {"color": "independent", "fill": "independent", "strokeDash": "independent"}}
}
